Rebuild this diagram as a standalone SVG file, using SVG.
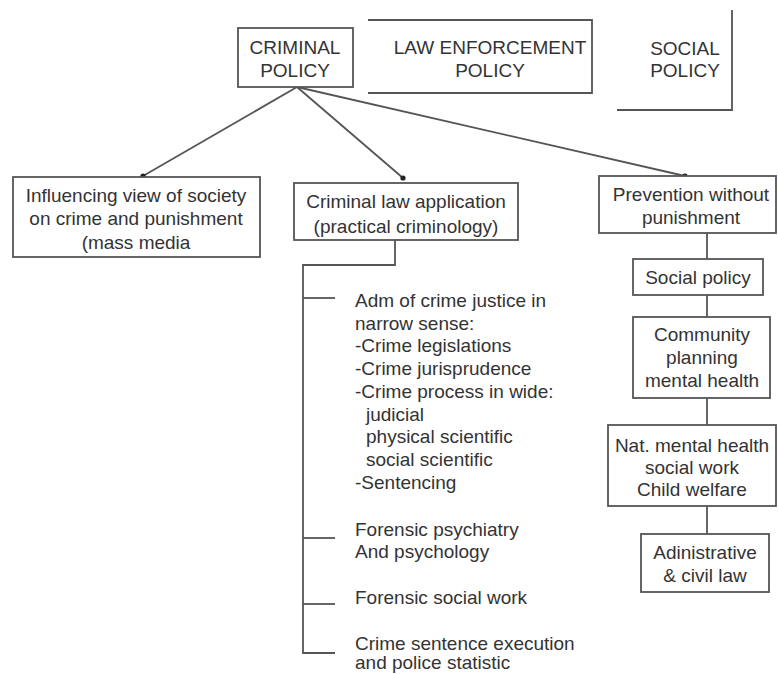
<svg xmlns="http://www.w3.org/2000/svg" width="778" height="674" viewBox="0 0 778 674">
<defs>
<style>
.box{fill:#fff;stroke:#555;stroke-width:1.8}
.ln{fill:none;stroke:#555;stroke-width:1.8}
.t{font-family:"Liberation Sans",Arial,sans-serif;font-size:19px;fill:#333;text-anchor:middle}
.tl{font-family:"Liberation Sans",Arial,sans-serif;font-size:19px;fill:#333}
</style>
<marker id="dot" viewBox="0 0 6 6" refX="3" refY="3" markerWidth="6" markerHeight="6" markerUnits="userSpaceOnUse"><circle cx="3" cy="3" r="2.6" fill="#222"/></marker>
</defs>
<rect width="778" height="674" fill="#fff"/>
<g id="connectors">
<line class="ln" x1="297" y1="87" x2="143" y2="176" marker-end="url(#dot)"/>
<line class="ln" x1="297" y1="87" x2="403" y2="178" marker-end="url(#dot)"/>
<line class="ln" x1="297" y1="87" x2="685" y2="176" marker-end="url(#dot)"/>
<polyline class="ln" points="395,240 395,265 303,265 303,653 335,653"/>
<line class="ln" x1="303" y1="298" x2="335" y2="298"/>
<line class="ln" x1="303" y1="538" x2="335" y2="538"/>
<line class="ln" x1="303" y1="604" x2="335" y2="604"/>
<line class="ln" x1="707" y1="233" x2="707" y2="259"/>
<line class="ln" x1="707" y1="295" x2="707" y2="317"/>
<line class="ln" x1="707" y1="398" x2="707" y2="425"/>
<line class="ln" x1="707" y1="506" x2="707" y2="534"/>
</g>
<g id="criminal-policy">
<rect class="box" x="238" y="28" width="115" height="59"/>
<text class="t" x="295" y="54">CRIMINAL</text>
<text class="t" x="295" y="77">POLICY</text>
</g>
<g id="law-enforcement-policy">
<polyline class="ln" points="368,20 592,20 592,93 368,93"/>
<text class="t" x="490" y="54">LAW ENFORCEMENT</text>
<text class="t" x="490" y="77">POLICY</text>
</g>
<g id="social-policy-top">
<polyline class="ln" points="732,10 732,110 617,110"/>
<text class="t" x="685" y="55">SOCIAL</text>
<text class="t" x="685" y="77">POLICY</text>
</g>
<g id="influencing">
<rect class="box" x="13" y="177" width="247" height="80"/>
<text class="t" x="136" y="202">Influencing view of society</text>
<text class="t" x="136" y="225">on crime and punishment</text>
<text class="t" x="136" y="249">(mass media</text>
</g>
<g id="criminal-law-application">
<rect class="box" x="294" y="183" width="224" height="57"/>
<text class="t" x="406" y="208">Criminal law application</text>
<text class="t" x="406" y="233">(practical criminology)</text>
</g>
<g id="adm-crime-justice">
<text class="tl" x="355" y="307">Adm of crime justice in</text>
<text class="tl" x="355" y="330">narrow sense:</text>
<text class="tl" x="355" y="352">-Crime legislations</text>
<text class="tl" x="355" y="375">-Crime jurisprudence</text>
<text class="tl" x="355" y="398">-Crime process in wide:</text>
<text class="tl" x="366" y="421">judicial</text>
<text class="tl" x="366" y="443">physical scientific</text>
<text class="tl" x="366" y="466">social scientific</text>
<text class="tl" x="355" y="489">-Sentencing</text>
</g>
<g id="forensic-psychiatry">
<text class="tl" x="355" y="536">Forensic psychiatry</text>
<text class="tl" x="355" y="558">And psychology</text>
</g>
<g id="forensic-social-work">
<text class="tl" x="355" y="604">Forensic social work</text>
</g>
<g id="crime-sentence-execution">
<text class="tl" x="355" y="650">Crime sentence execution</text>
<text class="tl" x="355" y="669">and police statistic</text>
</g>
<g id="prevention">
<rect class="box" x="599" y="176" width="177" height="57"/>
<text class="t" x="691" y="201">Prevention without</text>
<text class="t" x="691" y="224">punishment</text>
</g>
<g id="social-policy">
<rect class="box" x="633" y="259" width="130" height="36"/>
<text class="t" x="698" y="284">Social policy</text>
</g>
<g id="community">
<rect class="box" x="633" y="317" width="137" height="81"/>
<text class="t" x="702" y="341">Community</text>
<text class="t" x="702" y="364">planning</text>
<text class="t" x="702" y="387">mental health</text>
</g>
<g id="nat-mental-health">
<rect class="box" x="608" y="425" width="168" height="81"/>
<text class="t" x="692" y="452">Nat. mental health</text>
<text class="t" x="692" y="474">social work</text>
<text class="t" x="692" y="496">Child welfare</text>
</g>
<g id="administrative">
<rect class="box" x="641" y="534" width="128" height="58"/>
<text class="t" x="705" y="559">Adinistrative</text>
<text class="t" x="705" y="582">&amp; civil law</text>
</g>
</svg>
